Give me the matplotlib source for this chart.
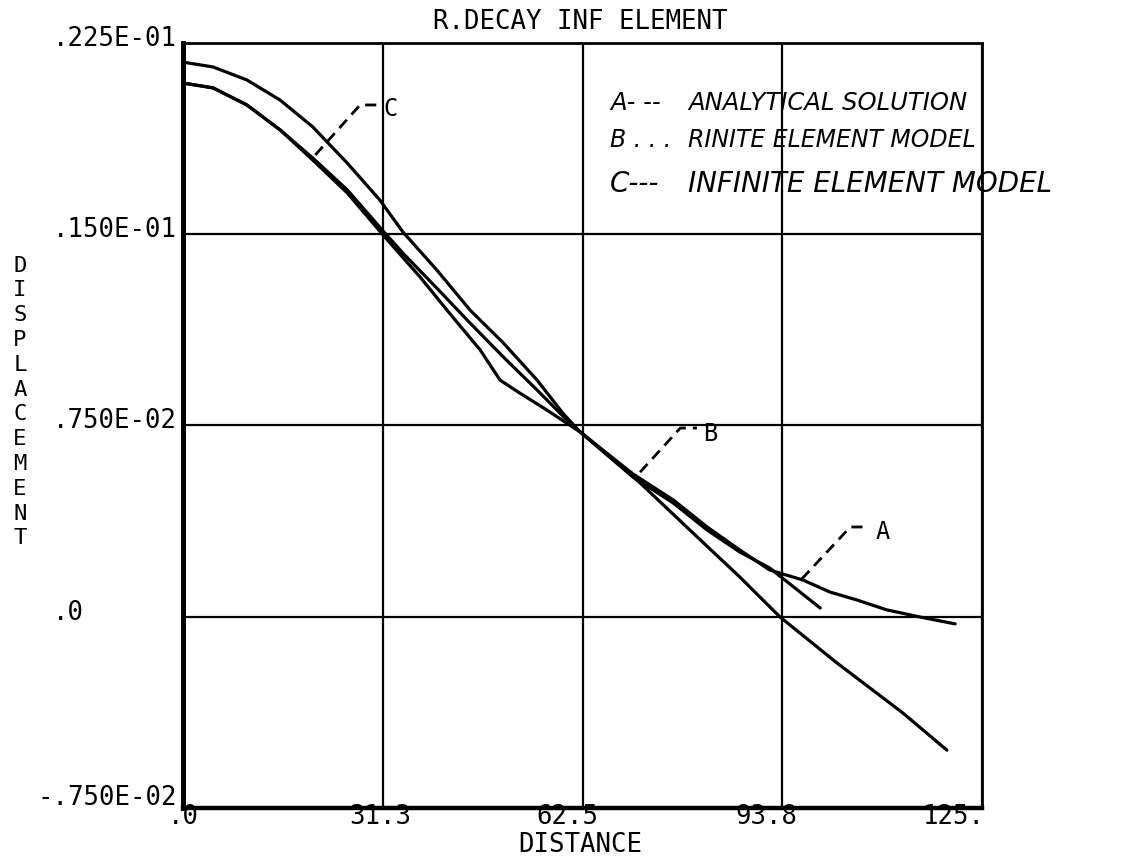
import matplotlib
matplotlib.use("Agg")
import matplotlib.pyplot as plt
from matplotlib.transforms import offset_copy

# grid / tick values
x_ticks = [0, 31.25, 62.5, 93.75, 125]
x_tick_labels = [".0", "31.3", "62.5", "93.8", "125."]
x_label_pos = [0.0, 30.8, 60.1, 91.2, 120.6]
y_ticks = [-0.0075, 0.0, 0.0075, 0.015, 0.0225]
y_tick_labels = ["-.750E-02", ".0", ".750E-02", ".150E-01", ".225E-01"]

# A - analytical solution
a_x = [0, 4.7, 10.0, 15.2, 20.3, 25.7, 30.8, 34.4, 39.7, 44.9, 50.1, 55.4, 59.4,
       62.1, 70.4, 76.7, 82.0, 87.1, 91.8, 97.0, 101.2, 105.4, 110.1, 115.3, 120.8]
a_y = [0.02175, 0.02156, 0.02105, 0.02026, 0.01921, 0.01779, 0.01634, 0.01509,
       0.01360, 0.01203, 0.01074, 0.00928, 0.00799, 0.00725, 0.00560, 0.00458,
       0.00352, 0.00262, 0.00183, 0.00144, 0.00097, 0.00066, 0.00027, -0.00001,
       -0.00028]

# B - finite element model
b_x = [0, 4.7, 10.0, 15.2, 20.3, 25.7, 31.3, 37.1, 42.2, 46.5, 49.6, 52.7, 56.9,
       62.1, 70.4, 76.7, 82.0, 87.1, 91.8, 99.7]
b_y = [0.02093, 0.02074, 0.02007, 0.01909, 0.01791, 0.01662, 0.01497, 0.01332,
       0.01175, 0.01046, 0.00928, 0.00877, 0.00811, 0.00725, 0.00548, 0.00446,
       0.00340, 0.00254, 0.00191, 0.00034]

# C - infinite element model
c_x = [0, 4.7, 10.0, 15.2, 20.3, 25.7, 31.3, 34.4, 39.7, 44.9, 50.1, 55.4, 60.5,
       63.7, 71.5, 79.3, 87.1, 93.4, 102.3, 112.6, 119.5]
c_y = [0.02093, 0.02074, 0.02007, 0.01909, 0.01799, 0.01674, 0.01513, 0.01426,
       0.01289, 0.01152, 0.01019, 0.00889, 0.00760, 0.00693, 0.00525, 0.00340,
       0.00156, -0.00001, -0.00181, -0.00377, -0.00523]

# dashed leaders to the curve letters
leader_names = ["C", "B", "A"]
leader_x = [[20.7, 27.7, 30.5], [71.5, 77.8, 80.4], [96.8, 104.4, 107.2]]
leader_y = [[0.01811, 0.02007, 0.02007], [0.00567, 0.00740, 0.00740],
            [0.00148, 0.00352, 0.00352]]
letter_x = [31.3, 81.4, 108.3]
letter_y = [0.01991, 0.00717, 0.00333]

legend_prefix = ["A- --", "B . . .", "C---"]
legend_body = ["ANALYTICAL SOLUTION", "RINITE ELEMENT MODEL", "INFINITE ELEMENT MODEL"]

mono = "DejaVu Sans Mono"

fig = plt.figure(figsize=(11.27, 8.61), dpi=100)
ax = fig.add_axes([183 / 1127, 53 / 861, 799 / 1127, 765 / 861])

ax.plot(a_x, a_y, color="black", lw=2.3, solid_capstyle="round")
ax.plot(b_x, b_y, color="black", lw=2.3, solid_capstyle="round")
ax.plot(c_x, c_y, color="black", lw=2.3, solid_capstyle="round")

for i in range(3):
    ax.plot(leader_x[i], leader_y[i], color="black", lw=2, linestyle=(0, (4, 2.5)))
    ax.text(letter_x[i], letter_y[i], leader_names[i], fontsize=17, family=mono,
            ha="left", va="center")

ax.set_xlim(0, 125)
ax.set_ylim(-0.0075, 0.0225)
ax.set_xticks(x_ticks)
ax.set_yticks(y_ticks)
ax.set_xticklabels([])
ax.set_yticklabels([])
ax.tick_params(length=0)
ax.grid(True, color="black", lw=1.6)

ax.spines["left"].set_linewidth(3.6)
ax.spines["bottom"].set_linewidth(3.2)
ax.spines["top"].set_linewidth(2.0)
ax.spines["right"].set_linewidth(2.0)

# tick labels, plotter style
xtr = ax.get_xaxis_transform()
for pos, lab in zip(x_label_pos, x_tick_labels):
    ax.text(pos, -0.012, lab, transform=xtr, fontsize=18.5, family=mono,
            ha="center", va="center")

ytr = ax.get_yaxis_transform()
for val, lab in zip(y_ticks, y_tick_labels):
    shift = 10 if val < 0 else 4
    left = -0.182 if lab.startswith("-") else -0.163
    ax.text(left, val, lab, fontsize=18.5, family=mono, ha="left", va="center",
            transform=offset_copy(ytr, fig=fig, y=shift, units="dots"))

fig.text(580 / 1127, 1 - 22 / 861, "R.DECAY INF ELEMENT", fontsize=18.5,
         family=mono, ha="center", va="center")
fig.text(580 / 1127, 1 - 845 / 861, "DISTANCE", fontsize=18.5, family=mono,
         ha="center", va="center")
fig.text(20 / 1127, 1 - 402 / 861, "\n".join("DISPLACEMENT"), fontsize=16,
         family=mono, ha="center", va="center", linespacing=1.3)

# handwritten legend
legend_rows = [103, 140, 184]
legend_sizes = [17.5, 17, 20]
for row, pre, body, fs in zip(legend_rows, legend_prefix, legend_body, legend_sizes):
    fig.text(610 / 1127, 1 - row / 861, pre, fontsize=fs, style="italic",
             ha="left", va="center")
    fig.text(688 / 1127, 1 - row / 861, body, fontsize=fs, style="italic",
             ha="left", va="center")

fig.savefig("out.png", dpi=100, facecolor="white")
